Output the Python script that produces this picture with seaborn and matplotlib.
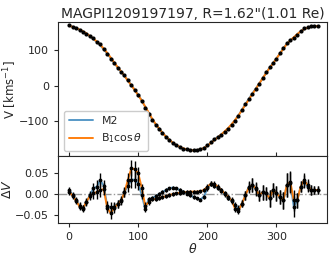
import numpy as np
import pandas as pd
import seaborn as sns
import matplotlib
matplotlib.use("Agg")
import matplotlib.pyplot as plt

title = 'MAGPI1209197197, R=1.62"(1.01 Re)'

theta = list(range(0, 361, 5))

v_obs = [171, 167, 162, 157, 151, 147, 142, 134, 125, 117, 105, 90, 77, 64, 50, 40,
         29, 16, 3, -12, -27, -44, -62, -80, -97, -111, -122, -134, -144, -154, -163,
         -169, -173, -178, -180, -182, -183, -182, -180, -176, -168, -160, -151, -145,
         -139, -131, -122, -111, -99, -85, -68, -53, -37, -22, -8, 6, 22, 38, 52, 64,
         76, 92, 108, 120, 128, 134, 144, 155, 162, 166, 168, 170, 170]
v_err = [2.0] * 73

v_m2 = [170, 167, 163, 158, 153, 147, 140, 132, 124, 114, 103, 91, 78, 65, 52, 40,
        28, 15, 2, -12, -26, -42, -60, -78, -95, -109, -121, -133, -144, -154, -162,
        -169, -174, -178, -181, -182, -182, -182, -180, -176, -169, -161, -152, -145,
        -138, -130, -121, -110, -98, -84, -68, -52, -37, -22, -8, 6, 21, 36, 51, 64,
        77, 91, 106, 119, 128, 136, 145, 154, 160, 164, 167, 168, 169]
v_b1 = [169, 167, 163, 159, 154, 148, 141, 133, 125, 116, 105, 93, 80, 66, 53, 41,
        28, 14, 1, -13, -27, -42, -59, -76, -93, -108, -121, -133, -144, -153, -161,
        -168, -173, -177, -180, -182, -183, -182, -180, -176, -170, -162, -154, -146,
        -138, -129, -120, -109, -97, -84, -69, -54, -39, -24, -9, 6, 21, 36, 50, 63,
        77, 91, 105, 118, 128, 137, 146, 154, 160, 164, 167, 168, 169]

dv_m2 = [0.011, -0.003, -0.015, -0.028, -0.035, -0.020, -0.002, 0.014, 0.018, 0.034,
         0.020, -0.028, -0.032, -0.030, -0.023, -0.015, 0.005, 0.020, 0.035, 0.035,
         0.025, -0.002, -0.036, -0.012, -0.010, -0.005, 0.000, 0.005, 0.010, 0.014,
         0.016, 0.014, 0.010, 0.006, 0.001, -0.003, -0.007, -0.010, -0.013, -0.006,
         0.014, 0.025, 0.020, 0.016, 0.008, 0.000, -0.009, -0.017, -0.027, -0.035,
         -0.023, -0.003, 0.018, 0.022, 0.012, -0.003, 0.005, 0.002, -0.010, 0.010,
         0.002, -0.007, -0.015, 0.022, 0.028, -0.030, -0.015, 0.018, 0.030, 0.018,
         0.010, 0.010, 0.010]
dv_b1 = [0.006, -0.004, -0.016, -0.030, -0.034, -0.018, -0.005, 0.002, 0.005, 0.010,
         0.012, -0.033, -0.046, -0.034, -0.024, -0.016, 0.004, 0.035, 0.063, 0.060,
         0.050, 0.015, -0.028, -0.020, -0.012, -0.012, -0.009, -0.007, -0.005, -0.002,
         0.000, 0.002, 0.003, 0.004, 0.005, 0.006, 0.006, 0.006, 0.007, 0.010,
         0.018, 0.025, 0.025, 0.018, 0.010, 0.002, -0.007, -0.015, -0.035, -0.040,
         -0.023, -0.003, 0.016, 0.022, 0.014, -0.003, 0.005, 0.002, -0.010, 0.010,
         0.002, -0.007, -0.015, 0.022, 0.030, -0.015, -0.015, 0.018, 0.034, 0.022,
         0.010, 0.010, 0.010]
dv_err = [0.007, 0.007, 0.007, 0.008, 0.008, 0.008, 0.010, 0.014, 0.016, 0.016,
          0.015, 0.012, 0.014, 0.012, 0.010, 0.010, 0.012, 0.015, 0.020, 0.020,
          0.016, 0.010, 0.008, 0.006, 0.005, 0.005, 0.005, 0.004, 0.004, 0.004,
          0.004, 0.004, 0.004, 0.004, 0.004, 0.004, 0.004, 0.004, 0.004, 0.005,
          0.006, 0.006, 0.006, 0.006, 0.006, 0.006, 0.006, 0.007, 0.008, 0.008,
          0.008, 0.010, 0.014, 0.016, 0.016, 0.014, 0.018, 0.016, 0.020, 0.018,
          0.018, 0.016, 0.020, 0.028, 0.025, 0.025, 0.018, 0.014, 0.016, 0.014,
          0.012, 0.010, 0.010]

df = pd.DataFrame({"theta": theta, "v": v_obs, "m2": v_m2, "b1": v_b1,
                   "dv_m2": dv_m2, "dv_b1": dv_b1})

sns.set_style("ticks")
plt.rcParams['font.family'] = ['DejaVu Sans']
plt.rcParams['mathtext.fontset'] = 'dejavusans'

blue = '#1f77b4'
orange = '#ff7f0e'

fig = plt.figure(figsize=(3.36, 2.57), dpi=100)
gs = fig.add_gridspec(2, 1, height_ratios=[2, 1], hspace=0,
                      left=0.173, right=0.973, bottom=0.132, top=0.914)
ax1 = fig.add_subplot(gs[0])
ax2 = fig.add_subplot(gs[1], sharex=ax1)

sns.lineplot(data=df, x="theta", y="m2", ax=ax1, color=blue, alpha=0.75, lw=1.4, label="M2")
sns.lineplot(data=df, x="theta", y="b1", ax=ax1, color=orange, lw=1.4, label=r"B$_1\cos\theta$")
ax1.errorbar(theta, v_obs, yerr=v_err, fmt='.', color='k', ms=4, elinewidth=0.8, zorder=3)
ax1.set_ylim(-199, 180)
ax1.set_yticks([-100, 0, 100])
ax1.set_ylabel(r"V [kms$^{-1}$]", fontsize=8.5, labelpad=0)
ax1.set_xlabel("")
ax1.set_title(title, fontsize=10, pad=3)
ax1.legend(loc='lower left', fontsize=7.8, handlelength=2.2, borderpad=0.5,
           labelspacing=0.5, framealpha=1)
ax1.tick_params(labelsize=8, length=3)
ax1.tick_params(axis='x', direction='in', labelbottom=False)

ax2.axhline(0, color='#999999', ls='-.', lw=1)
sns.lineplot(data=df, x="theta", y="dv_m2", ax=ax2, color=blue, alpha=0.75, lw=1.4)
sns.lineplot(data=df, x="theta", y="dv_b1", ax=ax2, color=orange, lw=1.4)
ax2.errorbar(theta, dv_m2, yerr=dv_err, fmt='.', color='k', ms=3.5, elinewidth=1, zorder=3)
ax2.errorbar(theta, dv_b1, yerr=dv_err, fmt='.', color='k', ms=3.5, elinewidth=1, zorder=3)
ax2.set_ylim(-0.07, 0.092)
ax2.set_xlim(-16, 373)
ax2.set_yticks([-0.05, 0.0, 0.05])
ax2.set_xticks([0, 100, 200, 300])
ax2.set_ylabel(r"$\Delta V$", fontsize=9, labelpad=1)
ax2.set_xlabel(r"$\theta$", fontsize=9, labelpad=0)
ax2.tick_params(labelsize=8, length=3)

fig.savefig("out.png", dpi=100)
